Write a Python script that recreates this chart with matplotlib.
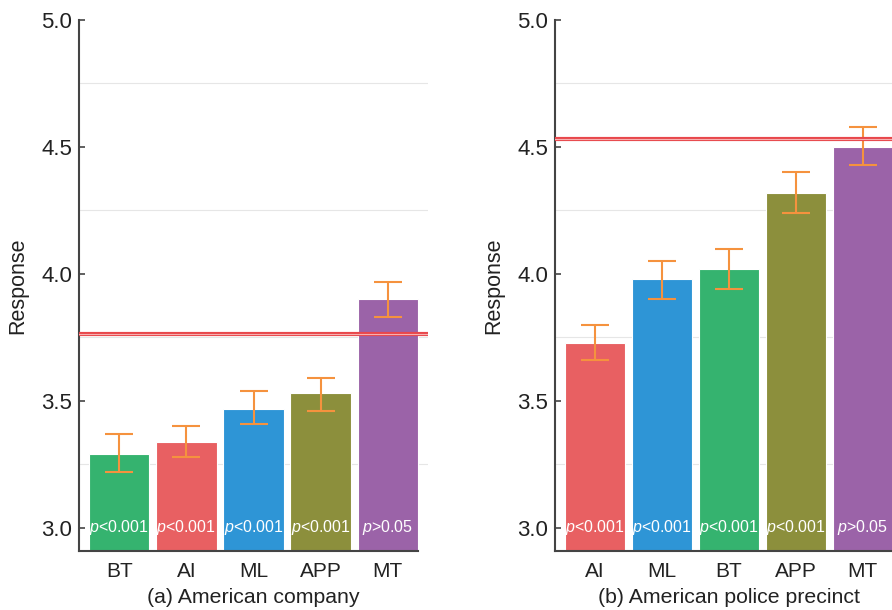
import matplotlib.pyplot as plt
from matplotlib.ticker import MultipleLocator

plt.rcParams['font.family'] = ['Liberation Sans', 'DejaVu Sans']
plt.rcParams['mathtext.fontset'] = 'custom'
plt.rcParams['mathtext.it'] = 'Liberation Sans:italic'
plt.rcParams['mathtext.rm'] = 'Liberation Sans'

# panel (a) American company
cats_a = ['BT', 'AI', 'ML', 'APP', 'MT']
mean_a = [3.29, 3.34, 3.47, 3.53, 3.90]
low_a = [3.22, 3.28, 3.41, 3.46, 3.83]
high_a = [3.37, 3.40, 3.54, 3.59, 3.97]
pval_a = ['<0.001', '<0.001', '<0.001', '<0.001', '>0.05']
ref_a = 3.764

# panel (b) American police precinct
cats_b = ['AI', 'ML', 'BT', 'APP', 'MT']
mean_b = [3.73, 3.98, 4.02, 4.32, 4.50]
low_b = [3.66, 3.90, 3.94, 4.24, 4.43]
high_b = [3.80, 4.05, 4.10, 4.40, 4.58]
pval_b = ['<0.001', '<0.001', '<0.001', '<0.001', '>0.05']
ref_b = 4.531

colors = {'BT': '#35b36f', 'AI': '#e86062', 'ML': '#2e95d6',
          'APP': '#8c8f3c', 'MT': '#9b63a8'}

fig = plt.figure(figsize=(8.92, 6.1), dpi=100)
ax_a = fig.add_axes([79 / 892, 59 / 610, 349 / 892, 531 / 610])
ax_b = fig.add_axes([555 / 892, 59 / 610, 348 / 892, 531 / 610])


def draw(ax, cats, mean, low, high, pvals, ref, title):
    x = list(range(len(cats)))
    ax.bar(x, [m - 2.5 for m in mean], bottom=2.5, width=0.9,
           color=[colors[c] for c in cats], edgecolor='white', linewidth=0.8, zorder=2)
    err = [[m - l for m, l in zip(mean, low)], [h - m for m, h in zip(mean, high)]]
    ax.errorbar(x, mean, yerr=err, fmt='none', ecolor='#f5923e', elinewidth=1.5,
                capsize=10, capthick=1.5, zorder=3)
    ax.axhline(ref, color='#e8474b', lw=3, zorder=4)
    ax.axhline(ref, color='#f6b0b0', lw=0.8, zorder=5)
    for i, p in enumerate(pvals):
        ax.text(i, 3.0, r'$\it{p}$' + p, color='white', ha='center', va='center',
                fontsize=11.5, zorder=6)
    ax.set_xlim(-0.6, 4.6)
    ax.set_ylim(2.909, 5.0)
    ax.yaxis.set_major_locator(MultipleLocator(0.5))
    ax.yaxis.set_minor_locator(MultipleLocator(0.25))
    ax.grid(which='minor', axis='y', color='#e6e6e6', lw=0.8, zorder=0)
    ax.tick_params(axis='y', which='minor', length=0)
    ax.tick_params(axis='y', which='major', direction='in', length=4, width=1.2,
                   color='#444444', labelsize=16, labelcolor='#222222', pad=5)
    ax.tick_params(axis='x', length=0, labelsize=15, labelcolor='#222222', pad=8)
    ax.set_yticks([3.0, 3.5, 4.0, 4.5, 5.0])
    ax.set_yticklabels(['3.0', '3.5', '4.0', '4.5', '5.0'])
    ax.set_xticks(x)
    ax.set_xticklabels(cats)
    ax.set_ylabel('Response', fontsize=15.5, color='#222222', labelpad=9)
    ax.set_xlabel(title, fontsize=15.3, color='#222222', labelpad=5)
    for s in ['top', 'right']:
        ax.spines[s].set_visible(False)
    for s in ['left', 'bottom']:
        ax.spines[s].set_color('#444444')
        ax.spines[s].set_linewidth(1.5)
    ax.spines['bottom'].set_bounds(-0.6, 4.45)


draw(ax_a, cats_a, mean_a, low_a, high_a, pval_a, ref_a, '(a) American company')
draw(ax_b, cats_b, mean_b, low_b, high_b, pval_b, ref_b, '(b) American police precinct')

fig.savefig('out.png', dpi=100)
